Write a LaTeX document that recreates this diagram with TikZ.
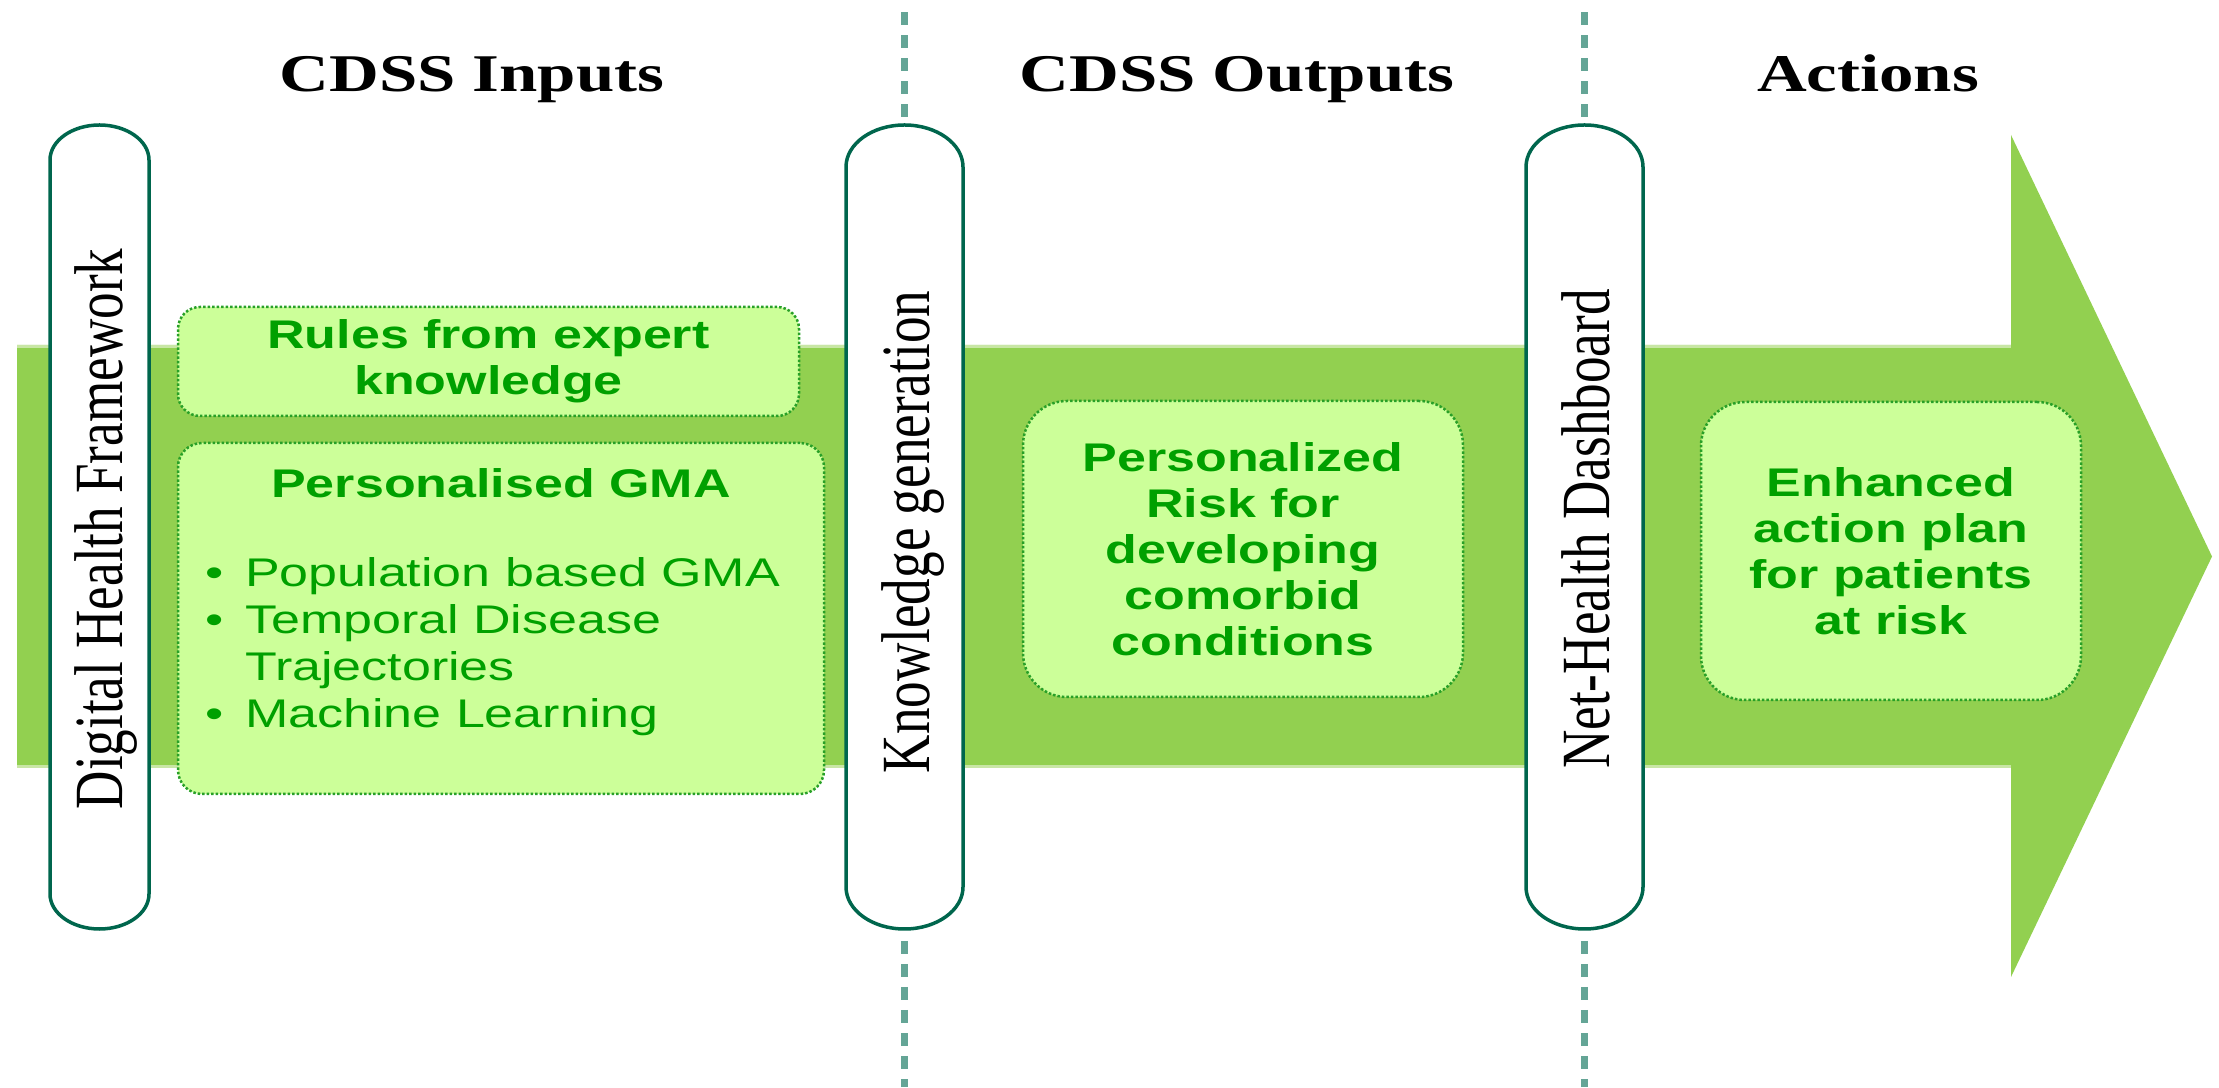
\documentclass[tikz,border=0pt]{standalone}
\usepackage{fontspec}
\usepackage{xcolor}
\usetikzlibrary{positioning}

\newfontfamily\headfont[FakeStretch=1.3]{Liberation Serif}
\newfontfamily\boxfont[FakeStretch=1.3]{Liberation Sans}
\newfontfamily\pillfont[FakeStretch=0.77]{Liberation Serif}

\definecolor{arrowgreen}{RGB}{146,208,80}
\definecolor{edgegreen}{RGB}{200,230,165}
\definecolor{boxfill}{RGB}{204,255,153}
\definecolor{boxline}{RGB}{40,160,40}
\definecolor{boxtext}{RGB}{0,160,0}
\definecolor{pillline}{RGB}{0,102,77}
\definecolor{dividerline}{RGB}{100,165,150}

\tikzset{
    heading/.style={font=\headfont\bfseries\fontsize{53}{60}\selectfont, anchor=base, inner sep=0pt},
    pilltext/.style={font=\pillfont\fontsize{69}{69}\selectfont, rotate=90, anchor=base, inner sep=0pt},
    pill/.style={draw=pillline, line width=3.5pt, fill=white},
    infobox/.style={draw=boxline, fill=boxfill, line width=2.5pt, dash pattern=on 2.5pt off 2pt,
        align=center, text=boxtext, font=\boxfont\bfseries\fontsize{40}{46}\selectfont},
    divider/.style={draw=dividerline, line width=7pt, dash pattern=on 13pt off 10pt},
}

\begin{document}
\begin{tikzpicture}[x=1pt, y=1pt]

    \useasboundingbox (0,0) rectangle (2219,1087);

    % big arrow
    \fill[arrowgreen] (17,319) -- (2011,319) -- (2011,110) -- (2212,530.5) -- (2011,952) -- (2011,742) -- (17,742) -- cycle;
    \draw[edgegreen, line width=3pt] (17,740.5) -- (2011,740.5);
    \draw[edgegreen, line width=3pt] (17,320.5) -- (2011,320.5);

    % dashed dividers
    \coordinate (kgtop) at (904.5,970);
    \coordinate (kgsky) at (904.5,1075);
    \coordinate (kgbot) at (904.5,146);
    \coordinate (kgfloor) at (904.5,0);
    \coordinate (nhtop) at (1584.5,970);
    \coordinate (nhsky) at (1584.5,1075);
    \coordinate (nhbot) at (1584.5,146);
    \coordinate (nhfloor) at (1584.5,0);
    \draw[divider] (kgtop) -- (kgsky);
    \draw[divider] (kgbot) -- (kgfloor);
    \draw[divider] (nhtop) -- (nhsky);
    \draw[divider] (nhbot) -- (nhfloor);

    % pills
    \draw[pill] (50,927) -- (50,193) arc[start angle=180, end angle=360, x radius=49.5, y radius=35]
        -- (149,927) arc[start angle=0, end angle=180, x radius=49.5, y radius=35] -- cycle;
    \draw[pill] (846,920) -- (846,200) arc[start angle=180, end angle=360, x radius=58.5, y radius=42]
        -- (963,920) arc[start angle=0, end angle=180, x radius=58.5, y radius=42] -- cycle;
    \draw[pill] (1526,920) -- (1526,200) arc[start angle=180, end angle=360, x radius=58.5, y radius=42]
        -- (1643,920) arc[start angle=0, end angle=180, x radius=58.5, y radius=42] -- cycle;

    \node[pilltext] (dhf) at (122,558) {Digital Health Framework};
    \node[pilltext] (kgen) at (929.5,555) {Knowledge generation};
    \node[pilltext] (nhd) at (1609.5,558) {Net-Health Dashboard};

    % column headings
    \node[heading] (inputs) at (472,995) {CDSS Inputs};
    \node[heading] (outputs) at (1237,995) {CDSS Outputs};
    \node[heading] (actions) at (1868,995) {Actions};

    % boxes
    \node[infobox, minimum width=621, minimum height=109, rounded corners=22pt] (rules) at (488.5,725.5) {Rules from expert\\knowledge};
    \node[infobox, minimum width=646, minimum height=351, rounded corners=24pt] (gma) at (501,468.5) {};
    \node[anchor=base, inner sep=0pt, text=boxtext, font=\boxfont\bfseries\fontsize{40}{46}\selectfont]
        (gmatitle) at ([yshift=-56]gma.north) {Personalised GMA};
    \node[anchor=base west, inner sep=0pt, text=boxtext, font=\boxfont\fontsize{40}{47}\selectfont]
        (gmalist) at ([xshift=29, yshift=-145]gma.north west) {%
        \begin{tabular}[t]{@{}l@{\hspace{21pt}}l@{}}
            \textbullet & Population based GMA\\
            \textbullet & Temporal Disease\\
                        & Trajectories\\
            \textbullet & Machine Learning
        \end{tabular}};
    \node[infobox, minimum width=440, minimum height=296, rounded corners=44pt] (risk) at (1243,538)
        {Personalized\\Risk for\\developing\\comorbid\\conditions};
    \node[infobox, minimum width=380, minimum height=298, rounded corners=44pt] (plan) at (1891,536)
        {Enhanced\\action plan\\for patients\\at risk};

\end{tikzpicture}
\end{document}
